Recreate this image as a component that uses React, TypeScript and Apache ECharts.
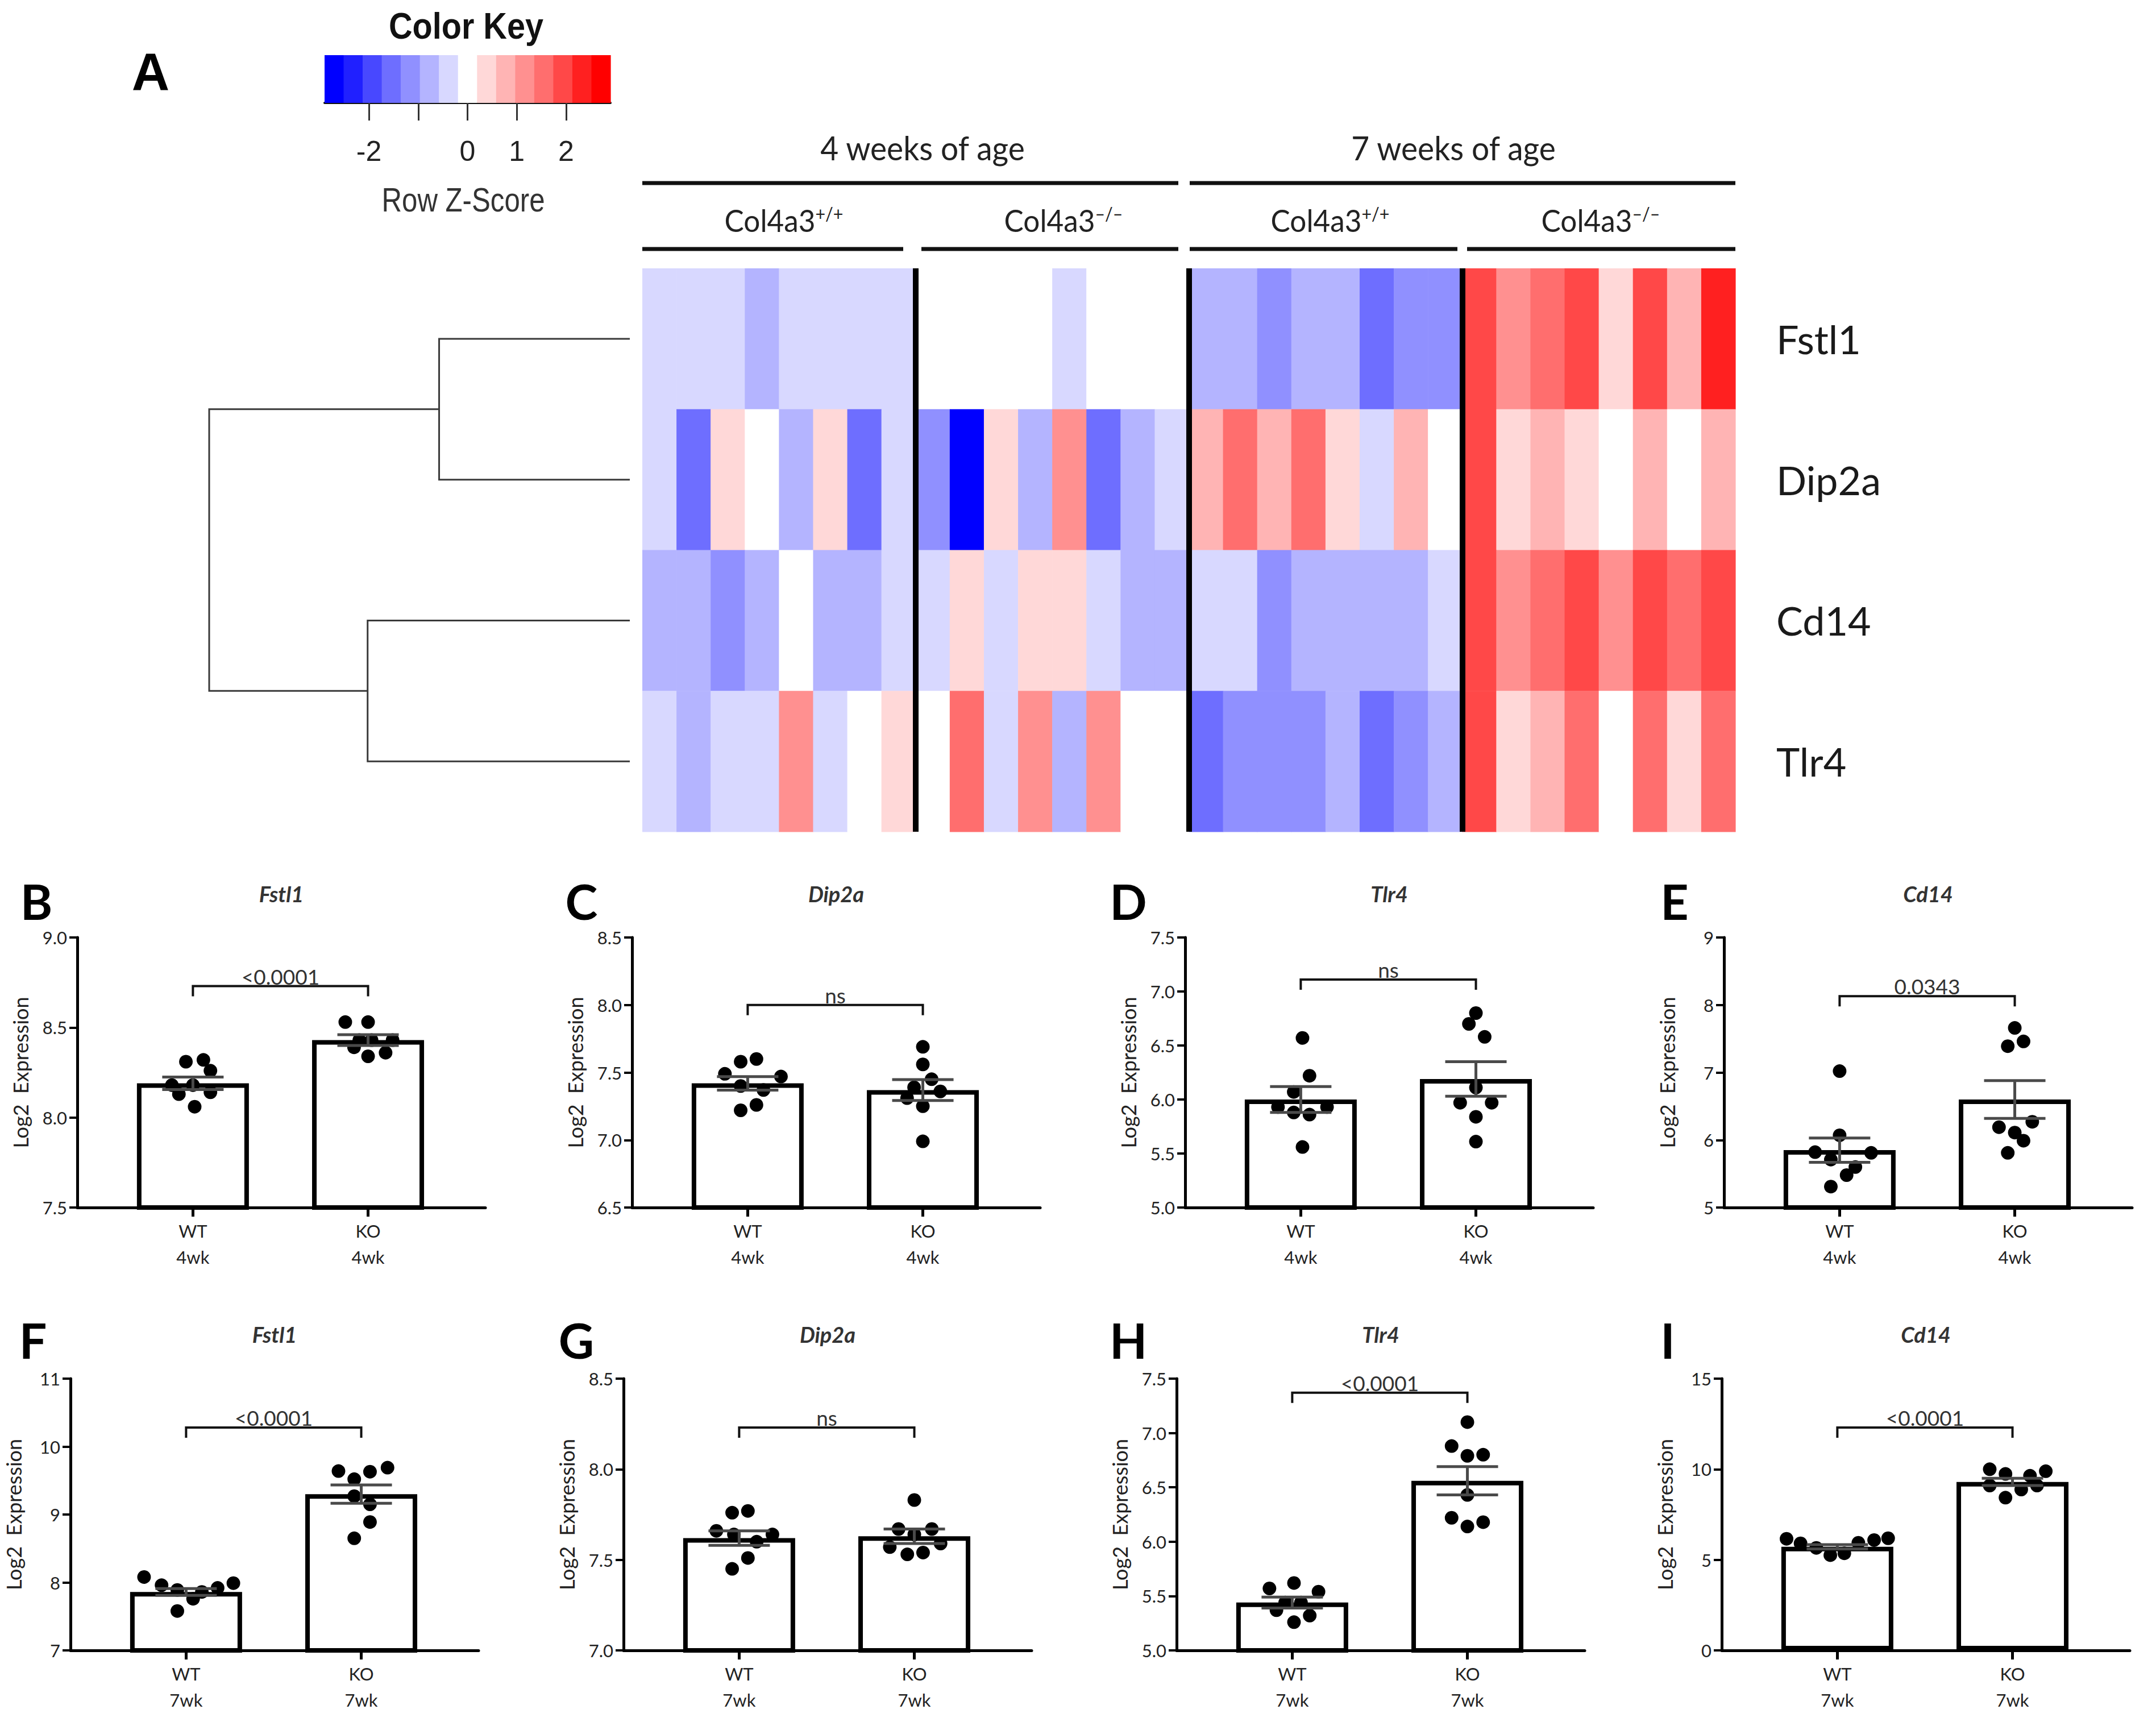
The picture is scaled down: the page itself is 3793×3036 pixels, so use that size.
import React, { useEffect, useRef } from 'react';
import * as echarts from 'echarts';

const CW = 3793;
const CH = 3036;

// ---------------- Heatmap data (row Z-scores) ----------------
const genes = ['Fstl1', 'Dip2a', 'Cd14', 'Tlr4'];
const zFstl1 = [-0.4, -0.4, -0.4, -0.8, -0.4, -0.4, -0.4, -0.4, 0, 0, 0, 0, -0.4, 0, 0, 0, -0.8, -0.8, -1.2, -0.8, -0.8, -1.5, -1.2, -1.2, 1.9, 1.2, 1.5, 1.9, 0.4, 1.9, 0.8, 2.3];
const zDip2a = [-0.4, -1.5, 0.4, 0, -0.8, 0.4, -1.5, -0.4, -1.2, -2.7, 0.4, -0.8, 1.2, -1.5, -0.8, -0.4, 0.8, 1.5, 0.8, 1.5, 0.4, -0.4, 0.8, 0, 1.9, 0.4, 0.8, 0.4, 0, 0.8, 0, 0.8];
const zCd14 = [-0.8, -0.8, -1.2, -0.8, 0, -0.8, -0.8, -0.4, -0.4, 0.4, -0.4, 0.4, 0.4, -0.4, -0.8, -0.8, -0.4, -0.4, -1.2, -0.8, -0.8, -0.8, -0.8, -0.4, 1.9, 1.2, 1.5, 1.9, 1.2, 1.9, 1.5, 1.9];
const zTlr4 = [-0.4, -0.8, -0.4, -0.4, 1.2, -0.4, 0, 0.4, 0, 1.5, -0.4, 1.2, -0.8, 1.2, 0, 0, -1.5, -1.2, -1.2, -1.2, -0.8, -1.5, -1.2, -0.8, 1.9, 0.4, 0.8, 1.5, 0, 1.5, 0.4, 1.5];
const heatRows = [zFstl1, zDip2a, zCd14, zTlr4];
const groupSizes = [8, 8, 8, 8];
const genotypeBase = ['Col4a3', 'Col4a3', 'Col4a3', 'Col4a3'];
const genotypeSup = ['+/+', '\u2013/\u2013', '+/+', '\u2013/\u2013'];
const ageHeaders = ['4 weeks of age', '7 weeks of age'];

// colour key
const keyColors = ['#0000FF', '#2020FF', '#4848FF', '#6E6EFF', '#9090FF', '#B4B4FF', '#D8D8FF', '#FFFFFF', '#FFD8D8', '#FFB4B4', '#FF9090', '#FF6E6E', '#FF4848', '#FF2020', '#FF0000'];
const keyRange = [-2.9, 2.9];
const keyTicks = [-2, -1, 0, 1, 2];
const keyTickLabels = [-2, 0, 1, 2];

// dendrogram merges: [childA, childB, height] (leaves 0..3, new clusters 4, 5, ...)
const dendroMerges = [[0, 1, 1.36], [2, 3, 1.87], [4, 5, 3.0]];

// ---------------- Bar panels ----------------
const panelLetters = ['B', 'C', 'D', 'E', 'F', 'G', 'H', 'I'];
const panelGenes = ['Fstl1', 'Dip2a', 'Tlr4', 'Cd14', 'Fstl1', 'Dip2a', 'Tlr4', 'Cd14'];
const panelAge = ['4wk', '4wk', '4wk', '4wk', '7wk', '7wk', '7wk', '7wk'];
const groupNames = ['WT', 'KO'];
const pLabels = ['<0.0001', 'ns', 'ns', '0.0343', '<0.0001', 'ns', '<0.0001', '<0.0001'];
const bracketY = [8.73, 8.0, 7.11, 8.13, 10.28, 8.23, 7.37, 12.3];
const yMin = [7.5, 6.5, 5.0, 5, 7, 7.0, 5.0, 0];
const yMax = [9.0, 8.5, 7.5, 9, 11, 8.5, 7.5, 15];
const yStep = [0.5, 0.5, 0.5, 1, 1, 0.5, 0.5, 5];
const yDecimals = [1, 1, 1, 0, 0, 1, 1, 0];
const wtMean = [8.19, 7.42, 6.0, 5.85, 7.86, 7.62, 5.44, 5.72];
const koMean = [8.43, 7.37, 6.19, 6.6, 9.3, 7.63, 6.56, 9.3];
const wtSem = [0.035, 0.05, 0.12, 0.18, 0.05, 0.04, 0.05, 0.12];
const koSem = [0.03, 0.077, 0.16, 0.28, 0.135, 0.04, 0.13, 0.2];
const wtPoints = [
  [8.31, 8.32, 8.26, 8.18, 8.13, 8.18, 8.14, 8.06],
  [7.58, 7.6, 7.49, 7.47, 7.4, 7.37, 7.26, 7.22],
  [6.57, 6.22, 6.07, 5.93, 5.88, 5.86, 5.93, 5.56],
  [7.02, 6.07, 5.82, 5.81, 5.71, 5.6, 5.48, 5.31],
  [8.08, 7.96, 7.89, 7.76, 7.86, 7.92, 7.99, 7.58],
  [7.76, 7.77, 7.66, 7.64, 7.64, 7.6, 7.51, 7.45],
  [5.57, 5.62, 5.54, 5.44, 5.44, 5.37, 5.32, 5.26],
  [6.16, 5.91, 5.66, 5.26, 5.36, 5.94, 6.09, 6.19],
];
const wtJitter = [
  [-0.04, 0.06, 0.1, -0.12, -0.08, 0.0, 0.1, 0.01],
  [-0.04, 0.05, -0.13, 0.19, -0.04, 0.09, 0.05, -0.04],
  [0.01, 0.05, -0.04, -0.13, -0.04, 0.05, 0.15, 0.01],
  [0, 0, -0.14, 0.18, -0.05, 0.09, 0.04, -0.05],
  [-0.24, -0.14, -0.05, 0.04, 0.09, 0.18, 0.27, -0.05],
  [-0.04, 0.05, -0.13, -0.03, 0.19, 0.1, 0.05, -0.04],
  [-0.13, 0.01, 0.15, -0.04, 0.05, -0.09, 0.1, 0.01],
  [-0.29, -0.21, -0.12, -0.04, 0.04, 0.12, 0.21, 0.29],
];
const koPoints = [
  [8.53, 8.53, 8.39, 8.43, 8.43, 8.34, 8.36, 8.43],
  [7.69, 7.56, 7.45, 7.39, 7.36, 7.31, 7.25, 6.99],
  [6.8, 6.7, 6.58, 6.11, 5.97, 5.97, 5.84, 5.61],
  [7.66, 7.39, 7.46, 6.27, 6.19, 6.11, 5.99, 5.81],
  [9.64, 9.63, 9.69, 9.52, 9.27, 9.15, 8.89, 8.65],
  [7.83, 7.67, 7.67, 7.64, 7.57, 7.59, 7.53, 7.54],
  [7.1, 6.88, 6.79, 6.8, 6.43, 6.22, 6.14, 6.18],
  [10.0, 9.74, 9.64, 9.89, 9.1, 8.88, 9.1, 8.43],
];
const koJitter = [
  [-0.13, 0.0, -0.08, 0.02, 0.14, 0.0, 0.1, -0.05],
  [0, 0, 0.05, -0.05, 0.1, -0.09, 0, 0],
  [0, -0.04, 0.05, 0, -0.09, 0.09, 0, 0],
  [0, -0.04, 0.05, 0.1, -0.09, 0, 0.05, -0.04],
  [-0.13, 0.05, 0.15, -0.04, -0.04, 0.05, 0.05, -0.04],
  [0, -0.09, 0.1, 0, -0.14, 0.15, -0.04, 0.05],
  [0, -0.09, 0, 0.09, 0, -0.09, 0, 0.09],
  [-0.13, -0.04, 0.1, 0.19, -0.13, 0.05, 0.14, -0.04],
];

// ---------------- Layout (pixels) ----------------
const FONT = 'Lato';
const RFONT = 'Liberation Sans';
const DENDRO = { left: 368, top: 472, width: 740, height: 991 };
const HEAT = { left: 1130, top: 472, width: 1923, height: 991 };
const KEY = { left: 571, top: 97, width: 503, height: 84 };
const panelLeft = [136, 1112, 2085, 3033, 124, 1097, 2070, 3029];
const rowTop = [1649, 2425];
const rowHeight = [475, 478];
const PANEL_W = 718;
const X_RANGE = [-0.66, 1.67];
const letterX = [64, 1023, 1985, 2946, 58, 1014, 1985, 2934];
const letterY = [1584, 2356];
const titleY = [1572, 2347];

function zColor(z: number) {
  const bw = (keyRange[1] - keyRange[0]) / keyColors.length;
  let i = Math.floor((z - keyRange[0]) / bw);
  if (i < 0) i = 0;
  if (i > keyColors.length - 1) i = keyColors.length - 1;
  return keyColors[i];
}

function txt(x: number, y: number, text: string, o: any, extra: any = {}) {
  return {
    type: 'text',
    x,
    y,
    silent: true,
    ...extra,
    style: {
      text,
      align: 'center',
      textAlign: 'center',
      verticalAlign: 'middle',
      textVerticalAlign: 'middle',
      ...o,
    },
  };
}

function hline(x1: number, x2: number, y: number, w: number) {
  return { type: 'line', silent: true, shape: { x1, y1: y, x2, y2: y }, style: { stroke: '#111', lineWidth: w } };
}

function buildOption() {
  const grid: any[] = [];
  const xAxis: any[] = [];
  const yAxis: any[] = [];
  const series: any[] = [];
  const graphic: any[] = [];

  // ---- dendrogram ----
  const nodeY: number[] = genes.map((_, i) => i + 0.5);
  const nodeH: number[] = genes.map(() => 0);
  const dendroData = dendroMerges.map(([a, b, h]) => {
    const seg = [nodeH[a], nodeY[a], h, nodeY[b], nodeH[b]];
    nodeY.push((nodeY[a] + nodeY[b]) / 2);
    nodeH.push(h);
    return seg;
  });
  grid.push({ ...DENDRO, outerBoundsMode: 'none' });
  xAxis.push({ type: 'value', gridIndex: 0, min: 0, max: 3, inverse: true, show: false });
  yAxis.push({ type: 'value', gridIndex: 0, min: 0, max: genes.length, inverse: true, show: false });
  series.push({
    type: 'custom',
    xAxisIndex: 0,
    yAxisIndex: 0,
    silent: true,
    encode: { x: [0, 2, 4], y: [1, 3] },
    data: dendroData,
    renderItem: (_p: any, api: any) => {
      const pts = [
        [api.value(0), api.value(1)],
        [api.value(2), api.value(1)],
        [api.value(2), api.value(3)],
        [api.value(4), api.value(3)],
      ].map((v) => api.coord(v));
      return { type: 'polyline', shape: { points: pts }, style: { stroke: '#3a3a3a', lineWidth: 3, fill: null } };
    },
  });

  // ---- heatmap ----
  const nCols = groupSizes.reduce((a, b) => a + b, 0);
  const bounds: number[] = [];
  groupSizes.reduce((acc, s, i) => {
    const n = acc + s;
    if (i < groupSizes.length - 1) bounds.push(n);
    return n;
  }, 0);
  grid.push({ ...HEAT, outerBoundsMode: 'none' });
  xAxis.push({ type: 'value', gridIndex: 1, min: 0, max: nCols, show: false });
  yAxis.push({
    type: 'category',
    gridIndex: 1,
    data: genes,
    inverse: true,
    position: 'right',
    axisLine: { show: false },
    axisTick: { show: false },
    splitLine: { show: false },
    axisLabel: { fontSize: 70, color: '#1a1a1a', margin: 72, fontFamily: FONT },
  });
  const heatData: number[][] = [];
  heatRows.forEach((row, r) => row.forEach((z, c) => heatData.push([c, r, z])));
  series.push({
    type: 'custom',
    xAxisIndex: 1,
    yAxisIndex: 1,
    silent: true,
    data: heatData,
    renderItem: (_p: any, api: any) => {
      const c = api.value(0);
      const r = api.value(1);
      const p0 = api.coord([c, r]);
      const p1 = api.coord([c + 1, r]);
      const h = api.size([0, 1])[1];
      return {
        type: 'rect',
        shape: { x: p0[0], y: p0[1] - h / 2, width: p1[0] - p0[0] + 0.6, height: h + 0.6 },
        style: { fill: zColor(api.value(2)) },
      };
    },
    markLine: {
      silent: true,
      symbol: 'none',
      animation: false,
      label: { show: false },
      lineStyle: { color: '#000', width: 10, type: 'solid' },
      data: bounds.map((b) => ({ xAxis: b })),
    },
  });

  // ---- colour key ----
  const bw = (keyRange[1] - keyRange[0]) / keyColors.length;
  grid.push({ ...KEY, outerBoundsMode: 'none' });
  xAxis.push({
    type: 'value',
    gridIndex: 2,
    min: keyRange[0],
    max: keyRange[1],
    axisLine: { show: true, onZero: false, lineStyle: { color: '#111', width: 4 } },
    axisTick: { show: true, customValues: keyTicks, length: 31, lineStyle: { color: '#333', width: 3 } },
    axisLabel: { customValues: keyTickLabels, fontSize: 50, margin: 60, color: '#222', fontFamily: RFONT, formatter: (v: number) => String(v) },
    splitLine: { show: false },
  });
  yAxis.push({ type: 'value', gridIndex: 2, min: 0, max: 1, show: false });
  series.push({
    type: 'custom',
    xAxisIndex: 2,
    yAxisIndex: 2,
    silent: true,
    encode: { x: [0, 1] },
    data: keyColors.map((_, i) => [keyRange[0] + i * bw, keyRange[0] + (i + 1) * bw, i]),
    renderItem: (_p: any, api: any) => {
      const a = api.coord([api.value(0), 1]);
      const b = api.coord([api.value(1), 0]);
      return {
        type: 'rect',
        shape: { x: a[0], y: a[1], width: b[0] - a[0] + 0.6, height: b[1] - a[1] },
        style: { fill: keyColors[api.value(2)] },
      };
    },
  });

  // ---- bar panels ----
  for (let i = 0; i < panelLetters.length; i++) {
    const gi = 3 + i;
    const row = i < 4 ? 0 : 1;
    grid.push({ left: panelLeft[i], top: rowTop[row], width: PANEL_W, height: rowHeight[row], outerBoundsMode: 'none' });
    xAxis.push({
      type: 'value',
      gridIndex: gi,
      min: X_RANGE[0],
      max: X_RANGE[1],
      axisLine: { show: true, onZero: false, lineStyle: { color: '#000', width: 5 } },
      axisTick: { show: true, customValues: [0, 1], length: 16, lineStyle: { color: '#000', width: 5 } },
      axisLabel: {
        customValues: [0, 1],
        formatter: (v: number) => `${groupNames[Math.round(v)]}\n${panelAge[i]}`,
        fontSize: 31,
        lineHeight: 46,
        margin: 18,
        color: '#222',
        fontFamily: FONT,
      },
      splitLine: { show: false },
    });
    yAxis.push({
      type: 'value',
      gridIndex: gi,
      min: yMin[i],
      max: yMax[i],
      interval: yStep[i],
      axisLine: { show: true, onZero: false, lineStyle: { color: '#000', width: 5 } },
      axisTick: { show: true, length: 14, lineStyle: { color: '#000', width: 4 } },
      axisLabel: { fontSize: 31, margin: 18, color: '#222', fontFamily: FONT, formatter: (v: number) => v.toFixed(yDecimals[i]) },
      splitLine: { show: false },
      name: 'Log2  Expression',
      nameLocation: 'middle',
      nameRotate: 90,
      nameGap: 82,
      nameTextStyle: { fontSize: 36, color: '#222', fontFamily: FONT },
    });
    series.push({
      type: 'bar',
      xAxisIndex: gi,
      yAxisIndex: gi,
      silent: true,
      z: 2,
      barWidth: 197,
      data: [[0, wtMean[i]], [1, koMean[i]]],
      itemStyle: { color: '#fff', borderColor: '#000', borderWidth: 8 },
    });
    series.push({
      type: 'scatter',
      xAxisIndex: gi,
      yAxisIndex: gi,
      silent: true,
      z: 3,
      symbolSize: 24,
      itemStyle: { color: '#000', opacity: 1 },
      data: [
        ...wtPoints[i].map((v, k) => [0 + wtJitter[i][k], v]),
        ...koPoints[i].map((v, k) => [1 + koJitter[i][k], v]),
      ],
    });
    series.push({
      type: 'custom',
      xAxisIndex: gi,
      yAxisIndex: gi,
      silent: true,
      z: 4,
      data: [[0, wtMean[i], wtSem[i]], [1, koMean[i], koSem[i]]],
      renderItem: (_p: any, api: any) => {
        const x = api.value(0);
        const m = api.value(1);
        const s = api.value(2);
        const t = api.coord([x, m + s]);
        const b = api.coord([x, m - s]);
        const hw = 54;
        const st = { stroke: '#4a4a4a', lineWidth: 5 };
        return {
          type: 'group',
          children: [
            { type: 'line', shape: { x1: t[0], y1: t[1], x2: b[0], y2: b[1] }, style: st },
            { type: 'line', shape: { x1: t[0] - hw, y1: t[1], x2: t[0] + hw, y2: t[1] }, style: st },
            { type: 'line', shape: { x1: b[0] - hw, y1: b[1], x2: b[0] + hw, y2: b[1] }, style: st },
          ],
        };
      },
    });
    series.push({
      type: 'custom',
      xAxisIndex: gi,
      yAxisIndex: gi,
      silent: true,
      z: 4,
      encode: { x: [0, 1], y: 2 },
      data: [[0, 1, bracketY[i]]],
      renderItem: (_p: any, api: any) => {
        const a = api.coord([api.value(0), api.value(2)]);
        const b = api.coord([api.value(1), api.value(2)]);
        const leg = 18;
        return {
          type: 'group',
          children: [
            {
              type: 'polyline',
              shape: { points: [[a[0], a[1] + leg], a, b, [b[0], b[1] + leg]] },
              style: { stroke: '#111', lineWidth: 4, fill: null },
            },
            {
              type: 'text',
              x: (a[0] + b[0]) / 2,
              y: a[1] + 1,
              style: {
                text: pLabels[i],
                fontSize: 37,
                fontFamily: FONT,
                fill: '#333',
                align: 'center',
                textAlign: 'center',
                verticalAlign: 'bottom',
                textVerticalAlign: 'bottom',
              },
            },
          ],
        };
      },
    });
    graphic.push(txt(letterX[i], letterY[row], panelLetters[i], { fontSize: 86, fontWeight: 'bold', fontFamily: FONT, fill: '#000' }));
    graphic.push(
      txt(panelLeft[i] + PANEL_W / 2, titleY[row], panelGenes[i], {
        fontSize: 38,
        fontStyle: 'italic',
        fontWeight: 'bold',
        fontFamily: FONT,
        fill: '#333',
      })
    );
  }

  // ---- heatmap annotations ----
  graphic.push(txt(265, 126, 'A', { fontSize: 92, fontWeight: 'bold', fontFamily: RFONT, fill: '#000' }));
  graphic.push(txt(820, 46, 'Color Key', { fontSize: 64, fontWeight: 'bold', fontFamily: RFONT, fill: '#111' }, { scaleX: 0.9 }));
  graphic.push(txt(815, 351, 'Row Z-Score', { fontSize: 60, fontFamily: RFONT, fill: '#333' }, { scaleX: 0.82 }));

  const ageCenters = [1623, 2557];
  ageHeaders.forEach((t, k) => graphic.push(txt(ageCenters[k], 259, t, { fontSize: 58, fontFamily: FONT, fill: '#222' }, { scaleX: 0.95 })));
  graphic.push(hline(1130, 2073, 322, 7));
  graphic.push(hline(2093, 3053, 322, 7));

  const genoCenters = [1379, 1871, 2340, 2816];
  genotypeBase.forEach((b, k) =>
    graphic.push({
      type: 'text',
      x: genoCenters[k],
      y: 387,
      silent: true,
      scaleX: 0.95,
      style: {
        text: `{m|${b}}{s|${genotypeSup[k]}}`,
        align: 'center',
        textAlign: 'center',
        verticalAlign: 'middle',
        textVerticalAlign: 'middle',
        rich: {
          m: { fontSize: 54, fontFamily: FONT, fill: '#222', color: '#222' },
          s: { fontSize: 32, fontFamily: FONT, fill: '#222', color: '#222', verticalAlign: 'top' },
        },
      },
    })
  );
  const genoLines = [
    [1130, 1589],
    [1621, 2073],
    [2093, 2564],
    [2581, 3053],
  ];
  genoLines.forEach(([a, b]) => graphic.push(hline(a, b, 438, 7)));

  return {
    animation: false,
    backgroundColor: '#ffffff',
    textStyle: { fontFamily: FONT },
    grid,
    xAxis,
    yAxis,
    series,
    graphic: { elements: graphic },
  };
}

export default function App() {
  const ref = useRef<HTMLDivElement>(null);
  useEffect(() => {
    if (!ref.current) return;
    const chart = echarts.init(ref.current, null, { renderer: 'svg', width: CW, height: CH });
    chart.setOption(buildOption() as any);
    return () => chart.dispose();
  }, []);
  return (
    <div
      ref={ref}
      style={{ position: 'absolute', left: 0, top: 0, width: CW, height: CH, background: '#fff' }}
    />
  );
}
